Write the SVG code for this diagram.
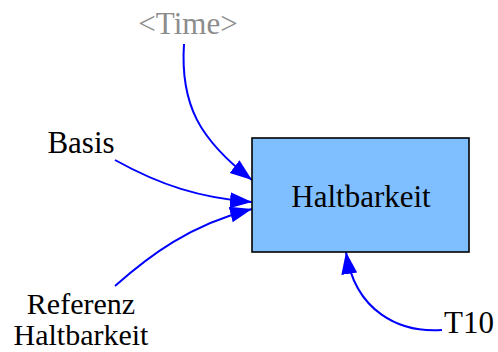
<svg xmlns="http://www.w3.org/2000/svg" width="498" height="352" viewBox="0 0 498 352">
  <style>
    text { font-family: 'Liberation Serif', 'DejaVu Serif', serif; font-size: 31px; text-anchor: middle; fill: #000; }
    .ghost { fill: #8c8c8c; }
    .two-line { font-size: 30px; }
    .link { fill: none; stroke: #0000ff; stroke-width: 2; marker-end: url(#arrow); }
    .stock { fill: #80bfff; stroke: #000; stroke-width: 1.6; }
  </style>
  <defs>
    <marker id="arrow" markerUnits="userSpaceOnUse" markerWidth="24" markerHeight="20" refX="22" refY="8" orient="auto">
      <path d="M0,0 L22,8 L0,16 z" fill="#0000ff"/>
    </marker>
  </defs>

  <g id="connectors">
    <path class="link" d="M184,44 C180,105 200,140 252,180"/>
    <path class="link" d="M115,160 C160,185 200,198 252,202"/>
    <path class="link" d="M115,286 C150,255 190,225 252,209"/>
    <path class="link" d="M442,330 C400,333 355,312 346,252"/>
  </g>

  <g id="haltbarkeit">
    <rect class="stock" x="252" y="138" width="217" height="114"/>
    <text x="361" y="207">Haltbarkeit</text>
  </g>

  <g id="time">
    <text class="ghost" x="188" y="34">&lt;Time&gt;</text>
  </g>

  <g id="basis">
    <text x="81" y="153">Basis</text>
  </g>

  <g id="referenz-haltbarkeit">
    <text class="two-line" x="81" y="314">Referenz</text>
    <text class="two-line" x="81" y="345">Haltbarkeit</text>
  </g>

  <g id="t10">
    <text x="469" y="333">T10</text>
  </g>
</svg>
